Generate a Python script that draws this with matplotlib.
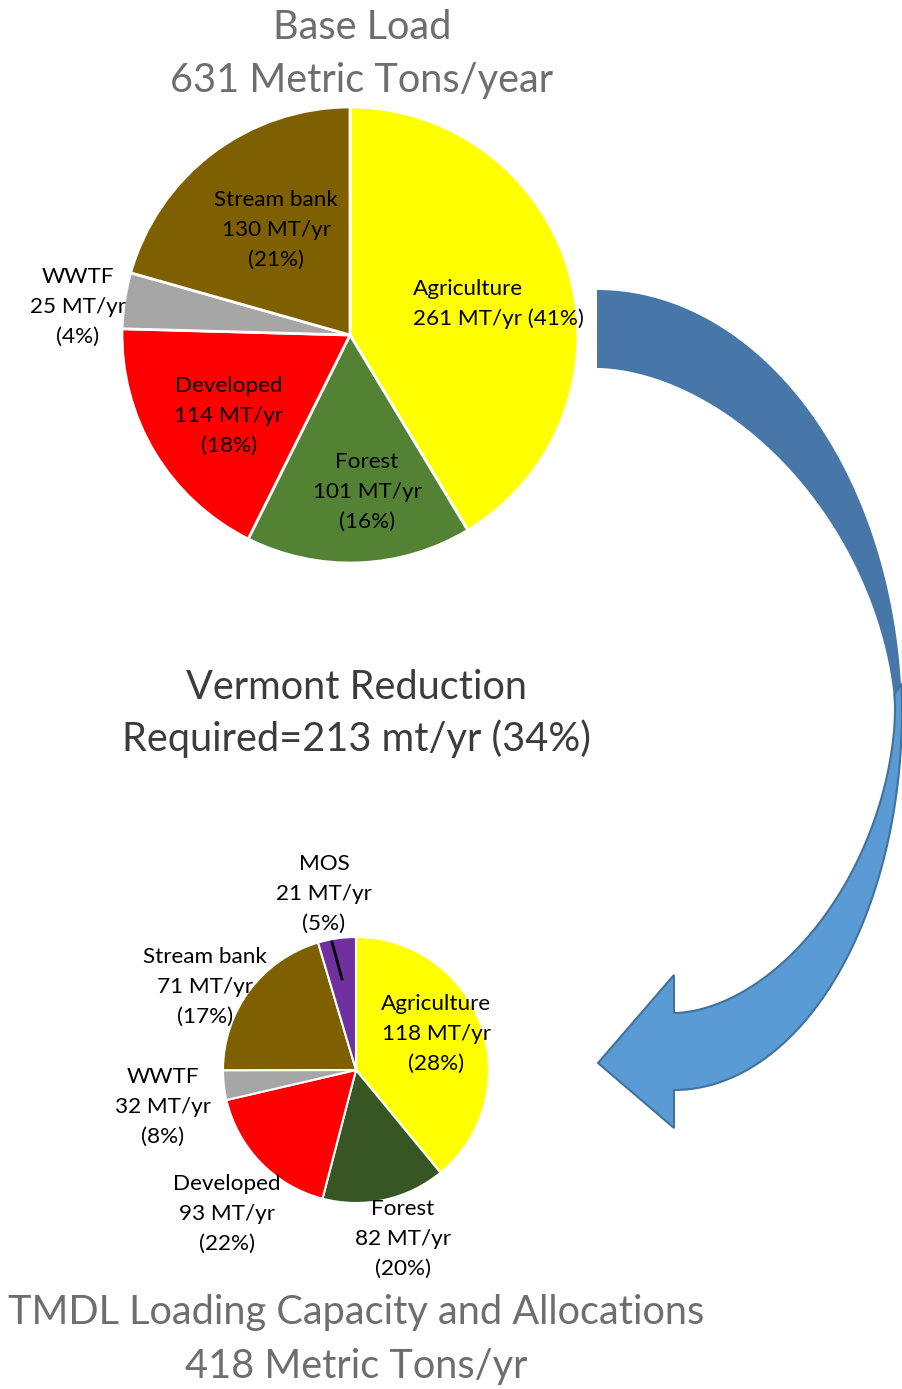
import numpy as np
import matplotlib
matplotlib.use("Agg")
import matplotlib.pyplot as plt
from matplotlib.patches import Polygon

W, H = 902, 1389

# Base load pie, slices clockwise from 12 o'clock
base_names = ["Agriculture", "Forest", "Developed", "WWTF", "Stream bank"]
base_loads = [261, 101, 114, 25, 130]
base_pct = [41, 16, 18, 4, 21]
base_colors = ["#FFFF00", "#548235", "#FF0000", "#A6A6A6", "#7F6000"]

# TMDL allocation pie
tmdl_names = ["Agriculture", "Forest", "Developed", "WWTF", "Stream bank", "MOS"]
tmdl_loads = [118, 82, 93, 32, 71, 21]
tmdl_pct = [28, 20, 22, 8, 17, 5]
# wedge sizes as they are drawn in the original (they don't follow the labels)
tmdl_wedges = [39.0, 15.0, 17.3, 3.6, 20.4, 4.6]
tmdl_colors = ["#FFFF00", "#375623", "#FF0000", "#A6A6A6", "#7F6000", "#7030A0"]

FONT = "Lato"
LABEL_SIZE = 16.2
TITLE_SIZE = 28.6

fig = plt.figure(figsize=(W / 100, H / 100), dpi=100)
ax = fig.add_axes([0, 0, 1, 1])


def put_lines(x, y, lines, size, color="black", gap=30, ha="center"):
    # y is the baseline of the first line, in pixels from the top
    for i, line in enumerate(lines):
        ax.text(x, H - (y + i * gap), line, ha=ha, va="baseline",
                fontsize=size, color=color, family=FONT)


def curve(cx, cy, a, b, t, n=2.0):
    # superellipse arc, pixel coords (y down)
    c, s = np.cos(t), np.sin(t)
    x = cx + a * np.sign(c) * np.abs(c) ** (2 / n)
    y = cy + b * np.sign(s) * np.abs(s) ** (2 / n)
    return x, H - y


# curved arrow: back (dark) part first
t = np.radians(np.linspace(-90, 0, 120))
ox, oy = curve(597, 720, 305, 430, t)
ix, iy = curve(597, 720, 298, 352, t, 1.8)
back = np.column_stack([np.r_[ox, ix[::-1]], np.r_[oy, iy[::-1]]])
ax.add_patch(Polygon(back, closed=True, facecolor="#4677A8", edgecolor="none"))

# front (light) part with the head
t = np.radians(np.linspace(-4, 90, 120))
ox, oy = curve(674, 710, 228, 380, t)
ix, iy = curve(674, 710, 221, 303, t, 1.8)
head = np.array([[674, H - 975], [598, H - 1063], [674, H - 1128]])
front = np.vstack([np.column_stack([ix, iy]), head,
                   np.column_stack([ox[::-1], oy[::-1]])])
ax.add_patch(Polygon(front, closed=True, facecolor="#5B9BD5",
                     edgecolor="#41719C", linewidth=1.5))

# pies
ax.pie(base_loads, colors=base_colors, startangle=90, counterclock=False,
       center=(350, H - 335), radius=228,
       wedgeprops=dict(edgecolor="white", linewidth=2))
ax.pie(tmdl_wedges, colors=tmdl_colors, startangle=90, counterclock=False,
       center=(356, H - 1070), radius=133,
       wedgeprops=dict(edgecolor="white", linewidth=1.5))

# base pie labels
base_pos = {"Agriculture": (413, 295), "Forest": (367, 468), "Developed": (229, 392),
            "WWTF": (78, 283), "Stream bank": (276, 206)}
for name, load, pct in zip(base_names, base_loads, base_pct):
    x, y = base_pos[name]
    if name == "Agriculture":
        put_lines(x, y, [name, f"{load} MT/yr ({pct}%)"], LABEL_SIZE, ha="left")
    else:
        put_lines(x, y, [name, f"{load} MT/yr", f"({pct}%)"], LABEL_SIZE)

# TMDL pie labels
tmdl_pos = {"Agriculture": (436, 1010), "Forest": (403, 1215), "Developed": (227, 1190),
            "WWTF": (163, 1083), "Stream bank": (205, 963), "MOS": (324, 870)}
for name, load, pct in zip(tmdl_names, tmdl_loads, tmdl_pct):
    x, y = tmdl_pos[name]
    put_lines(x, y, [name, f"{load} MT/yr", f"({pct}%)"], LABEL_SIZE)

# leader line for MOS
ax.plot([332, 342], [H - 942, H - 979], color="black", linewidth=2)

# titles
put_lines(362, 39, ["Base Load", "631 Metric Tons/year"], TITLE_SIZE,
          color="#6E6E6E", gap=53)
put_lines(356, 699, ["Vermont Reduction", "Required=213 mt/yr (34%)"], TITLE_SIZE,
          color="#3C3C3C", gap=52)
put_lines(356, 1324, ["TMDL Loading Capacity and Allocations", "418 Metric Tons/yr"],
          TITLE_SIZE, color="#6E6E6E", gap=54)

ax.set_xlim(0, W)
ax.set_ylim(0, H)
ax.set_aspect("equal")
ax.axis("off")

fig.savefig("out.png", dpi=100, facecolor="white")
